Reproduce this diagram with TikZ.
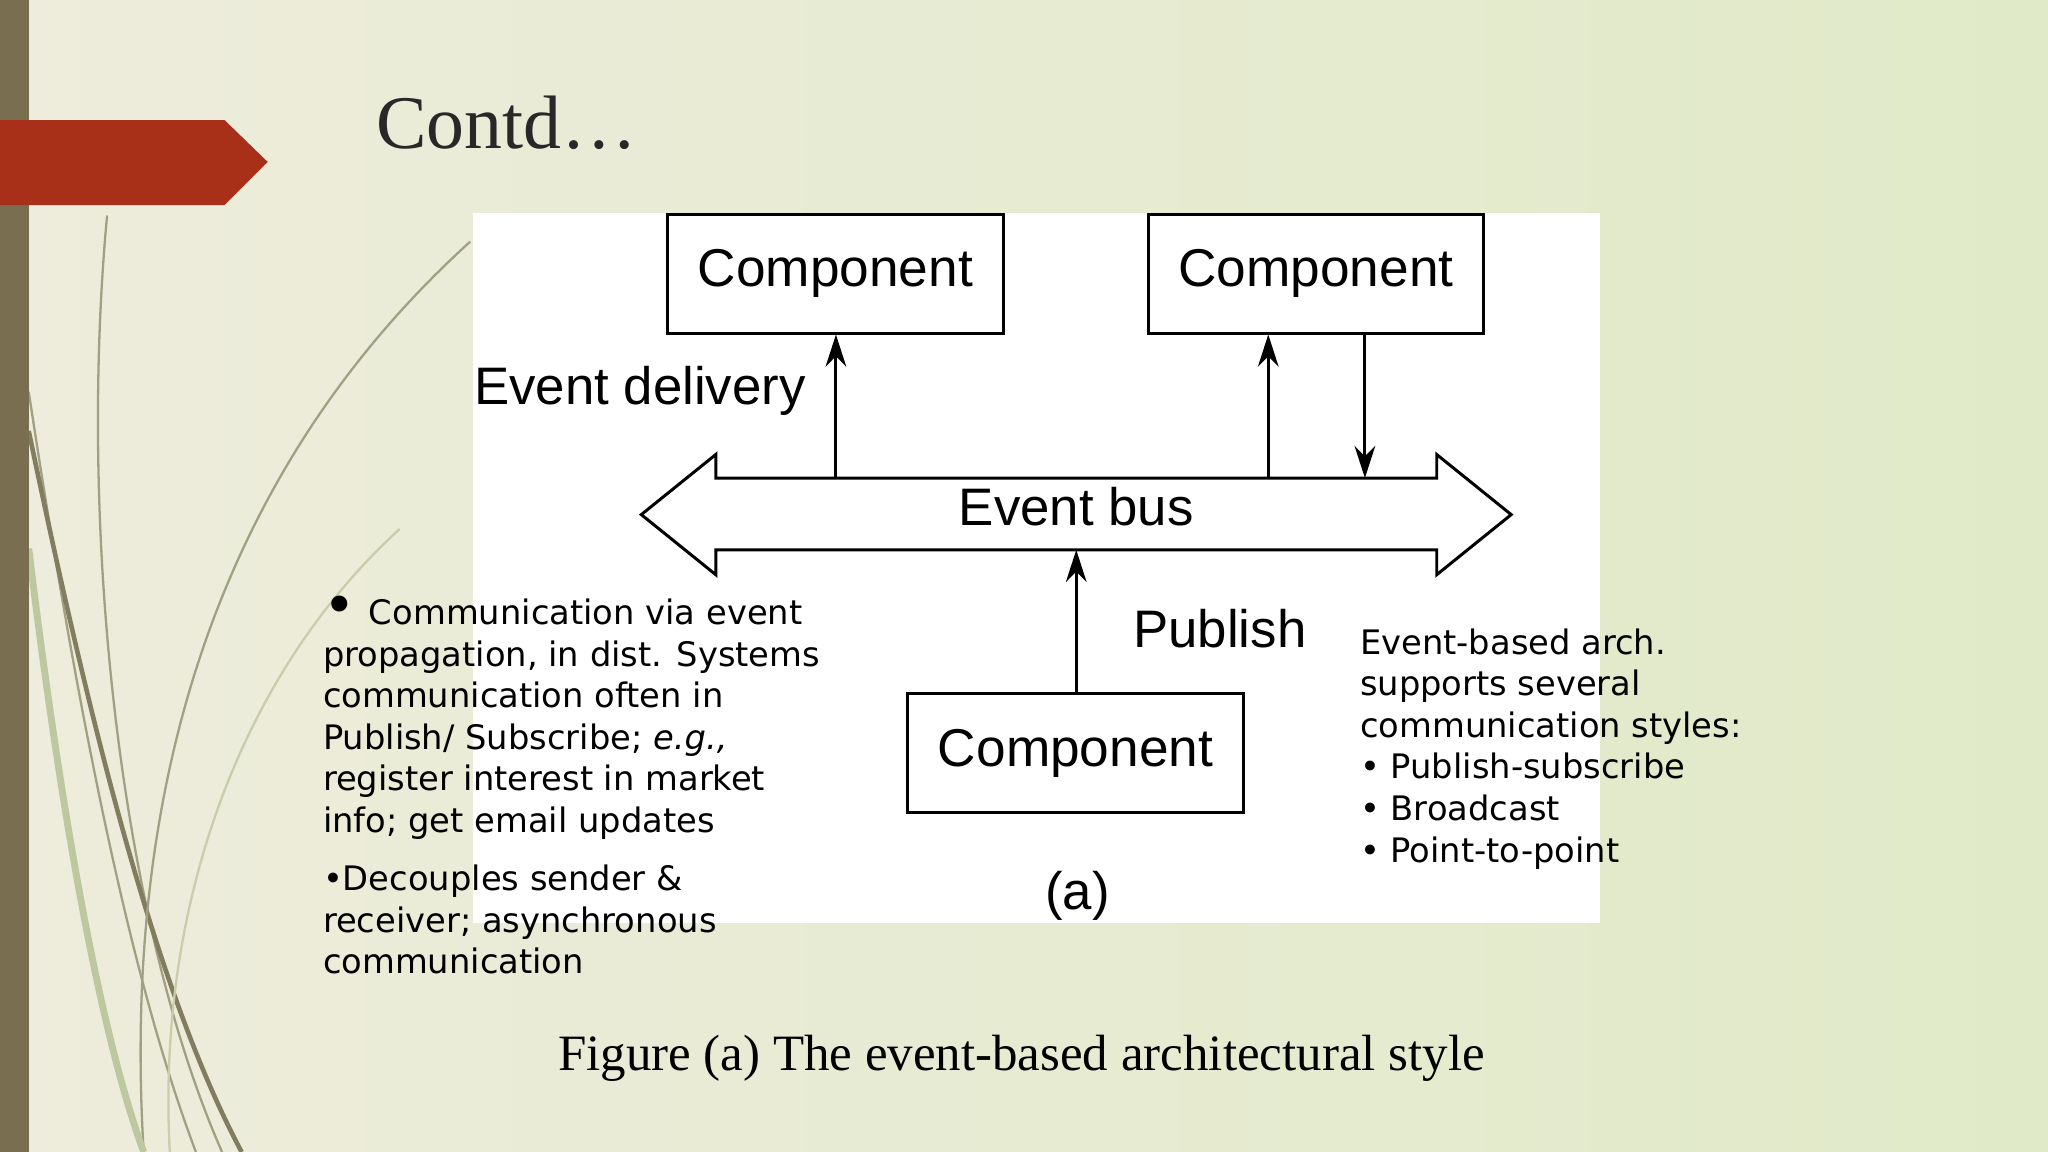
\documentclass[tikz,border=0pt]{standalone}
\usepackage{fontspec}
\setmainfont{Liberation Serif}
\newfontfamily\diag{Liberation Sans}
\newfontfamily\body{DejaVu Sans}
\begin{document}
\begin{tikzpicture}[x=0.02cm,y=-0.02cm,
  box/.style={draw,line width=1.3pt,minimum width=257*0.02cm,minimum height=91*0.02cm,font=\diag\fontsize{23.2}{26}\selectfont},
  arr/.style={line width=1.3pt,-{Stealth[length=14pt,width=9pt]}},
  lbl/.style={font=\diag\fontsize{23}{27}\selectfont},
  txt/.style={font=\body\fontsize{14.7}{18.1}\selectfont,align=left,anchor=north west,inner sep=0}]
\usetikzlibrary{arrows.meta}
\shade[left color={rgb,255:red,238;green,236;blue,220},right color={rgb,255:red,224;green,234;blue,200}] (0,0) rectangle (1568,882);
\useasboundingbox (0,0) rectangle (1568,882);
% decorative curves
\begin{scope}[draw={rgb,255:red,160;green,160;blue,130},line width=1pt]
\draw (82,165) .. controls (60,400) and (90,700) .. (170,882);
\draw (22,300) .. controls (60,550) and (100,750) .. (150,882);
\draw[line width=2pt,draw={rgb,255:red,130;green,125;blue,95}] (22,330) .. controls (70,560) and (120,760) .. (185,882);
\draw (360,185) .. controls (200,330) and (90,550) .. (110,882);
\draw[draw={rgb,255:red,200;green,205;blue,170}] (306,405) .. controls (180,520) and (120,700) .. (130,882);
\draw[draw={rgb,255:red,190;green,200;blue,160},line width=3pt] (22,420) .. controls (50,650) and (80,800) .. (110,882);
\end{scope}
\fill[fill={rgb,255:red,122;green,110;blue,80}] (0,0) rectangle (22,882);
\fill[fill={rgb,255:red,168;green,48;blue,24}] (0,92) -- (172,92) -- (205,124) -- (172,157) -- (0,157) -- cycle;
\node[anchor=west,font=\fontsize{33}{37}\selectfont,text={rgb,255:red,40;green,40;blue,40}] (title) at (282,94) {Contd…};
% white panel
\fill[white] (362,163) rectangle (1225,707);
\node[box] (c1) at (639.5,209.5) {Component};
\node[box] (c2) at (1007.5,209.5) {Component};
\node[box] (c3) at (823.5,576.5) {Component};
\draw[line width=1.3pt,fill=white] (491,394) -- (548,348) -- (548,366) -- (1100,366) -- (1100,348) -- (1157,394) -- (1100,440) -- (1100,421) -- (548,421) -- (548,440) -- cycle;
\node[lbl] (bus) at (824,388) {Event bus};
\coordinate (b1) at (640,366);
\coordinate (b2) at (971,366);
\coordinate (b3) at (1045,366);
\coordinate (b4) at (824,421);
\draw[arr] (b1) -- (b1 |- c1.south);
\draw[arr] (b2) -- (b2 |- c2.south);
\draw[arr] (b3 |- c2.south) -- (b3);
\draw[arr] (c3.north -| b4) -- (b4);
\node[lbl] (ed) at (490,299) {Event delivery};
\node[lbl] (pub) at (934,481) {Publish};
\node[lbl] (a) at (825,686) {(a)};
\node[txt] (t1) at (247,456) {\makebox[0pt][l]{\raisebox{0pt}{\fontsize{24}{24}\selectfont•}}\hspace{20pt}Communication via event\\propagation, in dist. Systems\\communication often in\\Publish/ Subscribe; \textit{e.g.,}\\register interest in market\\info; get email updates};
\node[txt] (t2) at (247,662) {•Decouples sender \&\\receiver; asynchronous\\communication};
\node[txt] (t3) at (1041,481) {Event-based arch.\\supports several\\communication styles:\\• Publish-subscribe\\• Broadcast\\• Point-to-point};
\node[font=\fontsize{22.2}{26}\selectfont] (cap) at (782,810) {Figure (a) The event-based architectural style};
\end{tikzpicture}
\end{document}
